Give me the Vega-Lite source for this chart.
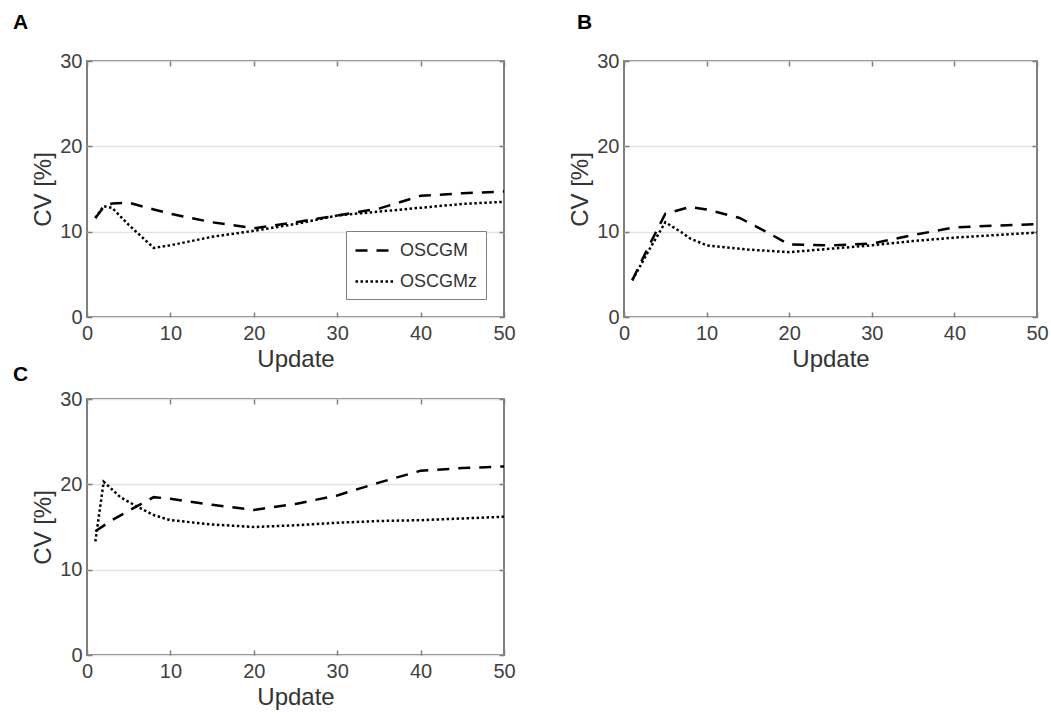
{
  "$schema": "https://vega.github.io/schema/vega-lite/v6.json",
  "padding": {"left": 12, "top": 11, "right": 5, "bottom": 5},
  "background": "white",
  "datasets": {
    "cv": [
      {"panel": "A", "series": "OSCGM", "update": 1, "cv": 11.6},
      {"panel": "A", "series": "OSCGM", "update": 2, "cv": 12.9},
      {"panel": "A", "series": "OSCGM", "update": 3, "cv": 13.3},
      {"panel": "A", "series": "OSCGM", "update": 5, "cv": 13.4},
      {"panel": "A", "series": "OSCGM", "update": 8, "cv": 12.6},
      {"panel": "A", "series": "OSCGM", "update": 10, "cv": 12.1},
      {"panel": "A", "series": "OSCGM", "update": 15, "cv": 11.1},
      {"panel": "A", "series": "OSCGM", "update": 20, "cv": 10.4},
      {"panel": "A", "series": "OSCGM", "update": 25, "cv": 11.1},
      {"panel": "A", "series": "OSCGM", "update": 30, "cv": 11.9},
      {"panel": "A", "series": "OSCGM", "update": 35, "cv": 12.7},
      {"panel": "A", "series": "OSCGM", "update": 40, "cv": 14.2},
      {"panel": "A", "series": "OSCGM", "update": 45, "cv": 14.5},
      {"panel": "A", "series": "OSCGM", "update": 50, "cv": 14.7},
      {"panel": "A", "series": "OSCGMz", "update": 1, "cv": 11.6},
      {"panel": "A", "series": "OSCGMz", "update": 2, "cv": 13.0},
      {"panel": "A", "series": "OSCGMz", "update": 3, "cv": 12.8},
      {"panel": "A", "series": "OSCGMz", "update": 5, "cv": 10.8},
      {"panel": "A", "series": "OSCGMz", "update": 8, "cv": 8.1},
      {"panel": "A", "series": "OSCGMz", "update": 10, "cv": 8.4},
      {"panel": "A", "series": "OSCGMz", "update": 15, "cv": 9.4},
      {"panel": "A", "series": "OSCGMz", "update": 20, "cv": 10.1},
      {"panel": "A", "series": "OSCGMz", "update": 25, "cv": 10.9},
      {"panel": "A", "series": "OSCGMz", "update": 30, "cv": 11.9},
      {"panel": "A", "series": "OSCGMz", "update": 35, "cv": 12.35},
      {"panel": "A", "series": "OSCGMz", "update": 40, "cv": 12.8},
      {"panel": "A", "series": "OSCGMz", "update": 45, "cv": 13.25},
      {"panel": "A", "series": "OSCGMz", "update": 50, "cv": 13.5},
      {"panel": "B", "series": "OSCGM", "update": 1, "cv": 4.3},
      {"panel": "B", "series": "OSCGM", "update": 3, "cv": 8.3},
      {"panel": "B", "series": "OSCGM", "update": 5, "cv": 12.1},
      {"panel": "B", "series": "OSCGM", "update": 8, "cv": 12.9},
      {"panel": "B", "series": "OSCGM", "update": 10, "cv": 12.6},
      {"panel": "B", "series": "OSCGM", "update": 14, "cv": 11.6},
      {"panel": "B", "series": "OSCGM", "update": 17, "cv": 10.1},
      {"panel": "B", "series": "OSCGM", "update": 20, "cv": 8.5},
      {"panel": "B", "series": "OSCGM", "update": 25, "cv": 8.4},
      {"panel": "B", "series": "OSCGM", "update": 30, "cv": 8.6},
      {"panel": "B", "series": "OSCGM", "update": 35, "cv": 9.6},
      {"panel": "B", "series": "OSCGM", "update": 40, "cv": 10.5},
      {"panel": "B", "series": "OSCGM", "update": 45, "cv": 10.7},
      {"panel": "B", "series": "OSCGM", "update": 50, "cv": 10.9},
      {"panel": "B", "series": "OSCGMz", "update": 1, "cv": 4.3},
      {"panel": "B", "series": "OSCGMz", "update": 3, "cv": 7.8},
      {"panel": "B", "series": "OSCGMz", "update": 5, "cv": 11.1},
      {"panel": "B", "series": "OSCGMz", "update": 7, "cv": 9.9},
      {"panel": "B", "series": "OSCGMz", "update": 8, "cv": 9.2},
      {"panel": "B", "series": "OSCGMz", "update": 10, "cv": 8.4},
      {"panel": "B", "series": "OSCGMz", "update": 15, "cv": 7.9},
      {"panel": "B", "series": "OSCGMz", "update": 20, "cv": 7.6},
      {"panel": "B", "series": "OSCGMz", "update": 25, "cv": 8.0},
      {"panel": "B", "series": "OSCGMz", "update": 30, "cv": 8.4},
      {"panel": "B", "series": "OSCGMz", "update": 35, "cv": 8.9},
      {"panel": "B", "series": "OSCGMz", "update": 40, "cv": 9.3},
      {"panel": "B", "series": "OSCGMz", "update": 45, "cv": 9.6},
      {"panel": "B", "series": "OSCGMz", "update": 50, "cv": 9.9},
      {"panel": "C", "series": "OSCGM", "update": 1, "cv": 14.5},
      {"panel": "C", "series": "OSCGM", "update": 3, "cv": 15.8},
      {"panel": "C", "series": "OSCGM", "update": 5, "cv": 16.9},
      {"panel": "C", "series": "OSCGM", "update": 8, "cv": 18.5},
      {"panel": "C", "series": "OSCGM", "update": 10, "cv": 18.3},
      {"panel": "C", "series": "OSCGM", "update": 15, "cv": 17.6},
      {"panel": "C", "series": "OSCGM", "update": 20, "cv": 17.0},
      {"panel": "C", "series": "OSCGM", "update": 25, "cv": 17.7},
      {"panel": "C", "series": "OSCGM", "update": 30, "cv": 18.7},
      {"panel": "C", "series": "OSCGM", "update": 35, "cv": 20.2},
      {"panel": "C", "series": "OSCGM", "update": 40, "cv": 21.6},
      {"panel": "C", "series": "OSCGM", "update": 45, "cv": 21.9},
      {"panel": "C", "series": "OSCGM", "update": 50, "cv": 22.1},
      {"panel": "C", "series": "OSCGMz", "update": 1, "cv": 13.3},
      {"panel": "C", "series": "OSCGMz", "update": 2, "cv": 20.3},
      {"panel": "C", "series": "OSCGMz", "update": 4, "cv": 18.5},
      {"panel": "C", "series": "OSCGMz", "update": 6, "cv": 17.4},
      {"panel": "C", "series": "OSCGMz", "update": 8, "cv": 16.4},
      {"panel": "C", "series": "OSCGMz", "update": 10, "cv": 15.8},
      {"panel": "C", "series": "OSCGMz", "update": 15, "cv": 15.3},
      {"panel": "C", "series": "OSCGMz", "update": 20, "cv": 15.0},
      {"panel": "C", "series": "OSCGMz", "update": 25, "cv": 15.2},
      {"panel": "C", "series": "OSCGMz", "update": 30, "cv": 15.5},
      {"panel": "C", "series": "OSCGMz", "update": 35, "cv": 15.7},
      {"panel": "C", "series": "OSCGMz", "update": 40, "cv": 15.8},
      {"panel": "C", "series": "OSCGMz", "update": 45, "cv": 16.0},
      {"panel": "C", "series": "OSCGMz", "update": 50, "cv": 16.2}
    ]
  },
  "data": {"name": "cv"},
  "columns": 2,
  "spacing": {"column": 120, "row": 82},
  "bounds": "flush",
  "resolve": {"legend": {"strokeDash": "independent"}},
  "concat": [
    {
      "width": 417, "height": 256,
      "title": {"text": "A", "dx": -74, "offset": 18},
      "transform": [{"filter": "datum.panel === 'A'"}],
      "resolve": {"axis": {"x": "independent", "y": "independent"}},
      "layer": [
        {
          "mark": {"type": "line", "color": "black", "strokeWidth": 2.5},
          "encoding": {
            "x": {"field": "update", "type": "quantitative", "scale": {"domain": [0, 50], "nice": false}, "axis": {"title": "Update", "values": [0, 10, 20, 30, 40, 50]}},
            "y": {"field": "cv", "type": "quantitative", "scale": {"domain": [0, 30], "nice": false}, "axis": {"title": "CV [%]", "values": [0, 10, 20, 30], "grid": true}},
            "strokeDash": {
              "field": "series", "type": "nominal",
              "scale": {"domain": ["OSCGM", "OSCGMz"], "range": [[12, 9], [2.5, 2.5]]},
              "legend": {"orient": "bottom-right", "offset": 18, "title": null, "symbolType": "M-2,0H2", "symbolSize": 400, "symbolOffset": 10, "symbolStrokeWidth": 2.5, "symbolStrokeColor": "black", "labelFontSize": 18, "labelColor": "#333333", "labelFont": "Liberation Sans", "strokeColor": "#7f7f7f", "fillColor": "white", "padding": 8, "rowPadding": 10, "labelOffset": 13}
            }
          }
        },
        {
          "mark": {"type": "line", "opacity": 0},
          "encoding": {
            "x": {"field": "update", "type": "quantitative", "scale": {"domain": [0, 50], "nice": false}, "axis": {"orient": "top", "title": null, "labels": false, "values": [0, 10, 20, 30, 40, 50]}},
            "y": {"field": "cv", "type": "quantitative", "scale": {"domain": [0, 30], "nice": false}, "axis": {"orient": "right", "title": null, "labels": false, "values": [0, 10, 20, 30]}},
            "detail": {"field": "series"}
          }
        }
      ]
    },
    {
      "width": 413, "height": 256,
      "title": {"text": "B", "dx": -47, "offset": 18},
      "transform": [{"filter": "datum.panel === 'B'"}],
      "resolve": {"axis": {"x": "independent", "y": "independent"}},
      "layer": [
        {
          "mark": {"type": "line", "color": "black", "strokeWidth": 2.5},
          "encoding": {
            "x": {"field": "update", "type": "quantitative", "scale": {"domain": [0, 50], "nice": false}, "axis": {"title": "Update", "values": [0, 10, 20, 30, 40, 50]}},
            "y": {"field": "cv", "type": "quantitative", "scale": {"domain": [0, 30], "nice": false}, "axis": {"title": "CV [%]", "values": [0, 10, 20, 30], "grid": true}},
            "strokeDash": {
              "field": "series", "type": "nominal",
              "scale": {"domain": ["OSCGM", "OSCGMz"], "range": [[12, 9], [2.5, 2.5]]},
              "legend": null
            }
          }
        },
        {
          "mark": {"type": "line", "opacity": 0},
          "encoding": {
            "x": {"field": "update", "type": "quantitative", "scale": {"domain": [0, 50], "nice": false}, "axis": {"orient": "top", "title": null, "labels": false, "values": [0, 10, 20, 30, 40, 50]}},
            "y": {"field": "cv", "type": "quantitative", "scale": {"domain": [0, 30], "nice": false}, "axis": {"orient": "right", "title": null, "labels": false, "values": [0, 10, 20, 30]}},
            "detail": {"field": "series"}
          }
        }
      ]
    },
    {
      "width": 417, "height": 256,
      "title": {"text": "C", "dx": -74, "offset": 4},
      "transform": [{"filter": "datum.panel === 'C'"}],
      "resolve": {"axis": {"x": "independent", "y": "independent"}},
      "layer": [
        {
          "mark": {"type": "line", "color": "black", "strokeWidth": 2.5},
          "encoding": {
            "x": {"field": "update", "type": "quantitative", "scale": {"domain": [0, 50], "nice": false}, "axis": {"title": "Update", "values": [0, 10, 20, 30, 40, 50]}},
            "y": {"field": "cv", "type": "quantitative", "scale": {"domain": [0, 30], "nice": false}, "axis": {"title": "CV [%]", "values": [0, 10, 20, 30], "grid": true}},
            "strokeDash": {
              "field": "series", "type": "nominal",
              "scale": {"domain": ["OSCGM", "OSCGMz"], "range": [[12, 9], [2.5, 2.5]]},
              "legend": null
            }
          }
        },
        {
          "mark": {"type": "line", "opacity": 0},
          "encoding": {
            "x": {"field": "update", "type": "quantitative", "scale": {"domain": [0, 50], "nice": false}, "axis": {"orient": "top", "title": null, "labels": false, "values": [0, 10, 20, 30, 40, 50]}},
            "y": {"field": "cv", "type": "quantitative", "scale": {"domain": [0, 30], "nice": false}, "axis": {"orient": "right", "title": null, "labels": false, "values": [0, 10, 20, 30]}},
            "detail": {"field": "series"}
          }
        }
      ]
    }
  ],
  "config": {
    "font": "Liberation Sans",
    "view": {"stroke": "#7f7f7f", "strokeWidth": 2},
    "title": {"fontSize": 21, "fontWeight": "bold", "anchor": "start", "frame": "group", "color": "black", "baseline": "alphabetic", "font": "Liberation Sans"},
    "axis": {
      "domain": false,
      "grid": false,
      "labelFont": "Liberation Sans",
      "labelFontSize": 20,
      "labelColor": "#404040",
      "labelFlush": false,
      "labelOverlap": false,
      "titleFont": "Liberation Sans",
      "titleFontSize": 24,
      "titleFontWeight": "normal",
      "titleColor": "#333333",
      "tickColor": "#7f7f7f",
      "tickWidth": 1.5,
      "tickSize": -5,
      "labelPadding": 10,
      "titlePadding": 4,
      "gridColor": "#e3e3e3",
      "gridWidth": 1.5
    },
    "axisX": {"labelPadding": 11}
  }
}
